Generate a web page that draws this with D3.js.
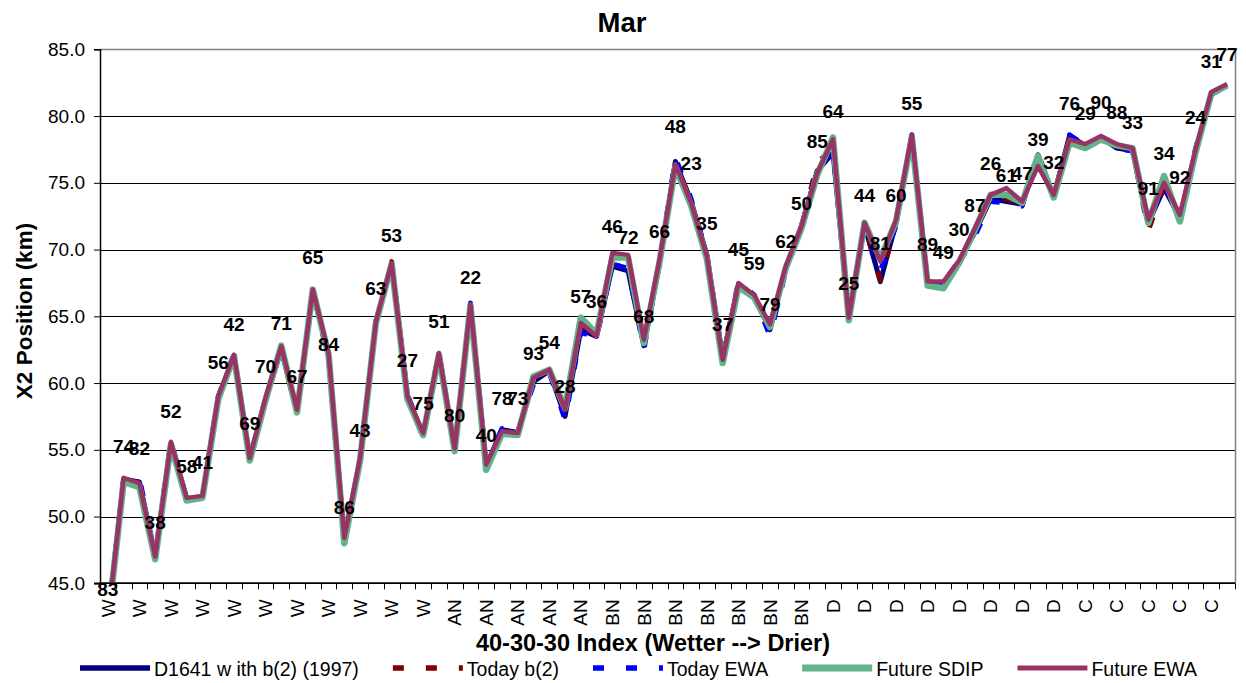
<!DOCTYPE html>
<html>
<head>
<meta charset="utf-8">
<script src="https://cdn.jsdelivr.net/npm/d3@7"></script>
<style>
  html, body { margin: 0; padding: 0; background: #fff; }
  svg { display: block; font-family: "Liberation Sans", Arial, sans-serif; }
</style>
</head>
<body>
<svg id="chart" width="1246" height="683"></svg>
<script>
// ---- Data ----
const yearLabels = ["83","74","82","38","52","58","41","56","42","69","70","71","67","65","84","86","43","63","53","27","75",
  "51","80","22","40","78","73","93","54","28","57",
  "36","46","72","68","66","48","23","35","37","45","59","79","62","50",
  "85","64","25","44","81","60","55","89","49","30","87","26","61","47","39","32",
  "76","29","90","88","33","91","34","92","24","31","77"];

const categories = [
  "W","W","W","W","W","W","W","W","W","W","W","W","W","W","W","W","W","W","W","W","W",
  "AN","AN","AN","AN","AN","AN","AN","AN","AN","AN",
  "BN","BN","BN","BN","BN","BN","BN","BN","BN","BN","BN","BN","BN","BN",
  "D","D","D","D","D","D","D","D","D","D","D","D","D","D","D","D",
  "C","C","C","C","C","C","C","C","C","C","C"];

const d1641 = [42.2,52.8,52.6,47.1,55.5,51.3,51.5,58.9,62.0,54.3,58.8,62.5,57.8,66.9,62.0,48.3,54.3,64.5,69.0,59.1,56.1,
  62.1,55.0,65.8,53.8,56.5,56.3,60.1,60.9,57.5,64.0,
  63.5,68.75,68.4,62.8,69.0,76.6,73.6,69.6,61.9,67.4,66.5,64.0,68.6,71.8,
  75.9,77.25,65.0,71.8,67.6,72.0,78.5,67.4,67.4,69.1,71.3,73.8,73.6,73.4,77.1,74.0,
  78.5,77.8,78.4,77.6,77.4,72.0,74.6,72.4,77.4,81.6,82.3];

const todayB2 = [42.3,52.8,52.5,47.0,55.5,51.2,51.4,58.9,62.1,54.2,58.8,62.6,57.9,66.9,62.1,48.0,54.3,64.6,69.1,59.0,55.9,
  62.2,55.0,65.9,53.9,56.4,56.3,60.5,61.0,57.8,64.1,
  63.4,68.9,68.6,63.0,69.0,76.5,73.6,69.3,61.8,67.4,66.5,64.0,68.5,71.6,
  76.5,77.6,64.9,71.9,67.7,72.0,78.5,67.6,67.5,69.2,71.4,73.8,73.8,73.4,77.0,74.0,
  78.4,77.8,78.4,77.7,77.5,71.4,74.8,72.3,77.4,81.7,82.3];

const todayEWA = [42.3,52.8,52.9,47.1,55.7,51.3,51.5,59.0,62.2,54.3,58.8,62.4,57.8,66.9,61.75,48.2,54.3,64.6,69.0,59.1,56.2,
  62.3,55.0,66.0,53.9,56.6,56.3,59.9,60.8,57.25,63.8,
  63.4,68.9,68.6,62.5,69.1,76.9,73.8,69.6,61.8,67.6,66.6,63.5,68.4,71.7,
  75.9,77.5,65.0,71.9,68.4,71.8,78.6,67.5,67.4,69.0,71.0,73.6,73.5,73.25,77.25,74.0,
  78.6,77.8,78.4,77.5,77.4,71.9,74.9,72.3,77.6,81.6,82.3];

const futureSDIP = [42.0,52.6,52.2,46.8,55.4,51.2,51.4,58.8,62.0,54.2,58.7,62.8,57.8,67.0,62.1,48.0,54.2,64.5,68.9,58.8,56.1,
  62.1,54.9,65.8,53.5,56.2,56.1,60.5,61.0,58.1,64.9,
  63.7,69.4,69.4,63.0,69.1,76.2,73.3,69.3,61.5,67.2,66.4,64.2,68.6,71.6,
  75.6,78.4,64.7,72.0,69.3,72.1,78.4,67.3,67.1,69.0,71.5,74.1,74.1,73.5,77.0,73.9,
  78.0,77.6,78.25,77.8,77.6,72.0,75.5,72.1,77.3,81.7,82.3];

const futureEWA = [42.2,52.9,52.5,47.0,55.6,51.4,51.55,59.0,62.1,54.4,58.9,62.75,58.0,67.0,62.25,48.4,54.4,64.6,69.0,59.0,56.25,
  62.25,55.1,65.9,53.9,56.4,56.25,60.4,61.0,58.0,64.5,
  63.5,69.75,69.6,63.25,69.3,76.4,73.5,69.5,61.75,67.5,66.6,64.4,68.75,71.75,
  75.75,78.25,64.9,72.0,69.1,72.25,78.6,67.6,67.6,69.2,71.6,74.1,74.6,73.6,76.25,74.1,
  78.25,77.9,78.5,77.9,77.6,72.25,75.0,72.6,77.5,81.8,82.4];

// value (km) at which each year label sits
const labelValues = [44.57,55.25,55.1,49.6,57.9,53.8,54.05,61.55,64.4,57.0,61.25,64.45,60.5,69.4,62.9,50.7,56.5,67.1,71.1,61.75,58.5,
  64.6,57.6,67.9,56.1,58.9,58.9,62.25,63.1,59.75,66.5,
  66.1,71.75,70.9,65.0,71.4,79.25,76.5,72.0,64.4,70.0,69.0,65.9,70.6,73.5,
  78.1,80.4,67.5,74.1,70.5,74.1,80.95,70.4,69.8,71.5,73.3,76.5,75.6,75.7,78.3,76.55,
  81.0,80.25,81.05,80.3,79.55,74.6,77.2,75.4,79.9,84.1,84.6];

const yTicks = [45, 50, 55, 60, 65, 70, 75, 80, 85];

const seriesNames = ["D1641 w ith b(2) (1997)", "Today b(2)", "Today EWA", "Future SDIP", "Future EWA"];
const seriesData = [d1641, todayB2, todayEWA, futureSDIP, futureEWA];
const seriesColors = ["#000080", "#800000", "#0000FF", "#62B38A", "#993366"];
const seriesWidths = [5, 5, 5, 6.5, 4.5];
const seriesDash = [null, "11,22", "11,22", null, null];

// ---- Layout ----
const svg = d3.select("#chart");
const L = 100, R = 1235, T = 49.3, B = 583.3;

const idx = d3.range(categories.length);
const x = d3.scaleBand().domain(idx).range([L, R]).paddingInner(0).paddingOuter(0);
const cx = i => x(i) + x.bandwidth() / 2;
const y = d3.scaleLinear().domain([45, 85]).range([B, T]);

svg.append("rect").attr("width", 1246).attr("height", 683).attr("fill", "#fff");

// gridlines
svg.append("g").selectAll("line").data(yTicks.filter(v => v > 45 && v < 85)).join("line")
  .attr("x1", L).attr("x2", R).attr("y1", d => Math.round(y(d)) + 0.5).attr("y2", d => Math.round(y(d)) + 0.5)
  .attr("stroke", "#000").attr("stroke-width", 1);

// plot border top/right (gray)
svg.append("path")
  .attr("d", `M${L},${Math.round(T)+0.5}H${R+0.5}V${B}`)
  .attr("fill", "none").attr("stroke", "#808080").attr("stroke-width", 1.5);

// y axis
const yAxis = svg.append("g").attr("transform", `translate(${L},0)`)
  .call(d3.axisLeft(y).tickValues(yTicks).tickFormat(d3.format(".1f")).tickSize(6).tickPadding(9));
yAxis.select(".domain").attr("stroke", "#000").attr("stroke-width", 1.5);
yAxis.selectAll(".tick line").attr("stroke", "#000");
yAxis.selectAll(".tick text").attr("font-size", 19).attr("fill", "#000")
  .attr("font-family", "Liberation Sans, Arial, sans-serif");

// x axis (labels every other category)
const xAxis = svg.append("g").attr("transform", `translate(0,${B})`)
  .call(d3.axisBottom(x).tickValues(idx.filter(i => i % 2 === 0)).tickFormat(i => categories[i]).tickSize(0));
xAxis.select(".domain").remove();
xAxis.selectAll(".tick text")
  .attr("font-size", 19).attr("fill", "#000").attr("font-family", "Liberation Sans, Arial, sans-serif")
  .attr("text-anchor", "end").attr("transform", "translate(0,16) rotate(-90)")
  .attr("x", 0).attr("y", 0).attr("dy", "0.35em");

// tick marks at category boundaries
const bounds = idx.map(i => x(i)).concat([R]);
svg.append("g").selectAll("line").data(bounds).join("line")
  .attr("x1", d => Math.round(d) + 0.5).attr("x2", d => Math.round(d) + 0.5)
  .attr("y1", B).attr("y2", B + 6).attr("stroke", "#000").attr("stroke-width", 1);
svg.append("line").attr("x1", L - 6).attr("x2", R).attr("y1", B).attr("y2", B)
  .attr("stroke", "#000").attr("stroke-width", 1.5);

// clip
svg.append("clipPath").attr("id", "plotclip").append("rect")
  .attr("x", L).attr("y", T - 5).attr("width", R - L).attr("height", B - T + 5);

const line = d3.line().x((d, i) => cx(i)).y(d => y(d));
const lines = svg.append("g").attr("clip-path", "url(#plotclip)");
seriesData.forEach((s, k) => {
  lines.append("path").datum(s).attr("d", line)
    .attr("fill", "none").attr("stroke", seriesColors[k]).attr("stroke-width", seriesWidths[k])
    .attr("stroke-linejoin", "round")
    .attr("stroke-dasharray", seriesDash[k]);
});
// redraw axis line over clipped lines
svg.append("line").attr("x1", L).attr("x2", R).attr("y1", B).attr("y2", B)
  .attr("stroke", "#000").attr("stroke-width", 1.5);

// year labels
svg.append("g").selectAll("text").data(yearLabels).join("text")
  .attr("x", (d, i) => cx(i)).attr("y", (d, i) => y(labelValues[i]))
  .attr("dy", "0.36em").attr("text-anchor", "middle")
  .attr("font-size", 19).attr("font-weight", "bold").attr("fill", "#000")
  .text(d => d);

// title
svg.append("text").attr("x", 622).attr("y", 32).attr("text-anchor", "middle")
  .attr("font-size", 27.5).attr("font-weight", "bold").text("Mar");

// axis titles
svg.append("text").attr("x", 653).attr("y", 651).attr("text-anchor", "middle")
  .attr("font-size", 23.5).attr("font-weight", "bold").text("40-30-30 Index (Wetter --> Drier)");
svg.append("text").attr("transform", "translate(32,311) rotate(-90)").attr("text-anchor", "middle")
  .attr("font-size", 22.5).attr("font-weight", "bold").text("X2 Position (km)");

// legend
const leg = svg.append("g");
let lx = 80;
const ly = 668;
seriesNames.forEach((name, k) => {
  leg.append("line").attr("x1", lx).attr("x2", lx + 70).attr("y1", ly).attr("y2", ly)
    .attr("stroke", seriesColors[k]).attr("stroke-width", seriesWidths[k] + 0.5)
    .attr("stroke-dasharray", seriesDash[k]);
  const t = leg.append("text").attr("x", lx + 74).attr("y", ly + 7.5)
    .attr("font-size", 19.5).attr("fill", "#000").text(name);
  lx += 74 + t.node().getComputedTextLength() + 34;
});
</script>
</body>
</html>
